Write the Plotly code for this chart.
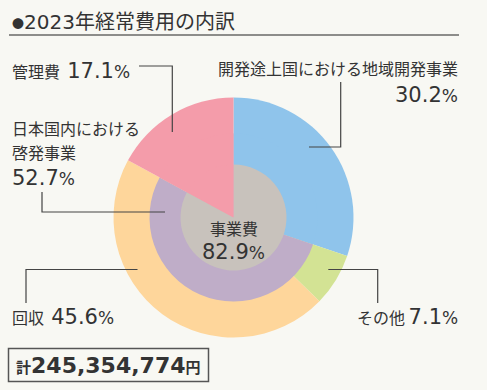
import plotly.graph_objects as go

W, H = 487, 390

# ---- data ----
outer_labels = ['開発途上国における地域開発事業', 'その他', '回収', '管理費']
outer_values = [30.2, 7.1, 45.6, 17.1]
middle_labels = ['開発途上国における地域開発事業', '日本国内における啓発事業', '管理費']
middle_values = [30.2, 52.7, 17.1]
center_labels = ['事業費', '管理費']
center_values = [82.9, 17.1]
total_yen = 245354774
title_text = '2023年経常費用の内訳'

# ---- styles ----
C_BLUE = '#8FC4EB'
C_GREEN = '#D3E394'
C_PEACH = '#FED69B'
C_PINK = '#F49CAA'
C_LAV = '#BFADC8'
C_GREY = '#C8C2BC'
BG = '#F8F8F3'
TXT = '#333333'
FONT = 'Noto Sans CJK JP'
NUMFONT = 'DejaVu Sans'

cx, cy = 233.5, 217.5
R_OUT, R_MID, R_IN = 120, 84, 53


def dom(r):
    return dict(x=[(cx - r) / W, (cx + r) / W], y=[1 - (cy + r) / H, 1 - (cy - r) / H])


def px(x):
    return x / W


def py(y):
    return 1 - y / H


common = dict(sort=False, direction='clockwise', rotation=0, textinfo='none',
              hoverinfo='label+percent', showlegend=False, marker_line_width=0)

fig = go.Figure()
fig.add_trace(go.Pie(labels=outer_labels, values=outer_values, domain=dom(R_OUT),
                     marker_colors=[C_BLUE, C_GREEN, C_PEACH, C_PINK], **common))
fig.add_trace(go.Pie(labels=middle_labels, values=middle_values, domain=dom(R_MID),
                     marker_colors=[C_BLUE, C_LAV, C_PINK], **common))
fig.add_trace(go.Pie(labels=center_labels, values=center_values, domain=dom(R_IN),
                     marker_colors=[C_GREY, C_PINK], **common))


def pct(v, big=21, small=17):
    return (f"<span style='font-family:{NUMFONT};font-size:{big}px'>{v}</span>"
            f"<span style='font-family:{NUMFONT};font-size:{small}px'>%</span>")


ann = []


def add(x, y, text, size=16, xanchor='left', yanchor='middle', align='left'):
    ann.append(dict(x=px(x), y=py(y), xref='paper', yref='paper', text=text, showarrow=False,
                    xanchor=xanchor, yanchor=yanchor, align=align,
                    font=dict(family=FONT, size=size, color=TXT)))


# title
add(10, 20, "<span style='font-size:12px'>●</span>"
    f"<span style='font-family:{NUMFONT}'>{title_text[:4]}</span>{title_text[4:]}", size=20)
# labels
add(10, 71, f"{outer_labels[3]}  " + pct(outer_values[3]))
add(10, 128, middle_labels[1][:8])
add(10, 152, middle_labels[1][8:])
add(10, 178, pct(middle_values[1]))
add(460, 68, outer_labels[0], xanchor='right')
add(460, 95, pct(outer_values[0]), xanchor='right')
add(10, 317, f"{outer_labels[2]}  " + pct(outer_values[2]))
add(460, 317, f"{outer_labels[1]} " + pct(outer_values[1]), xanchor='right')
# center
add(cx, 228, center_labels[0], size=16, xanchor='center')
add(cx, 252, pct(center_values[0]), xanchor='center')
# total box
add(108.5, 365.5, "<b><span style='font-size:15px'>計</span>"
    f"<span style='font-family:{NUMFONT};font-size:22px'>{total_yen:,}</span>"
    "<span style='font-size:15px'>円</span></b>", size=22, xanchor='center')

LC = '#444444'


def path(pts):
    d = 'M ' + ' L '.join(f"{px(x)} {py(y)}" for x, y in pts)
    return dict(type='path', path=d, xref='paper', yref='paper', line=dict(color=LC, width=1.2))


shapes = [
    dict(type='line', x0=px(9), x1=px(459), y0=py(35), y1=py(35), xref='paper', yref='paper',
         line=dict(color='#222', width=1.2)),
    path([(139, 66), (172.3, 66), (172.3, 132)]),
    path([(42, 192), (42, 212), (165, 212)]),
    path([(340.7, 82), (340.7, 147), (309, 147)]),
    path([(26, 303), (26, 269.5), (137.5, 269.5)]),
    path([(377.7, 303), (377.7, 269.5), (328.3, 269.5)]),
    dict(type='rect', x0=px(8.5), x1=px(208.5), y0=py(348.5), y1=py(381.5), xref='paper', yref='paper',
         line=dict(color='#555', width=1.5), fillcolor='rgba(0,0,0,0)'),
]

fig.update_layout(width=W, height=H, margin=dict(l=0, r=0, t=0, b=0),
                  paper_bgcolor=BG, plot_bgcolor=BG, annotations=ann, shapes=shapes,
                  font=dict(family=FONT, color=TXT))
fig.write_html("out.html", config={'displayModeBar': False},
               post_script="document.body.style.margin='0';document.body.style.background='%s';" % BG)
